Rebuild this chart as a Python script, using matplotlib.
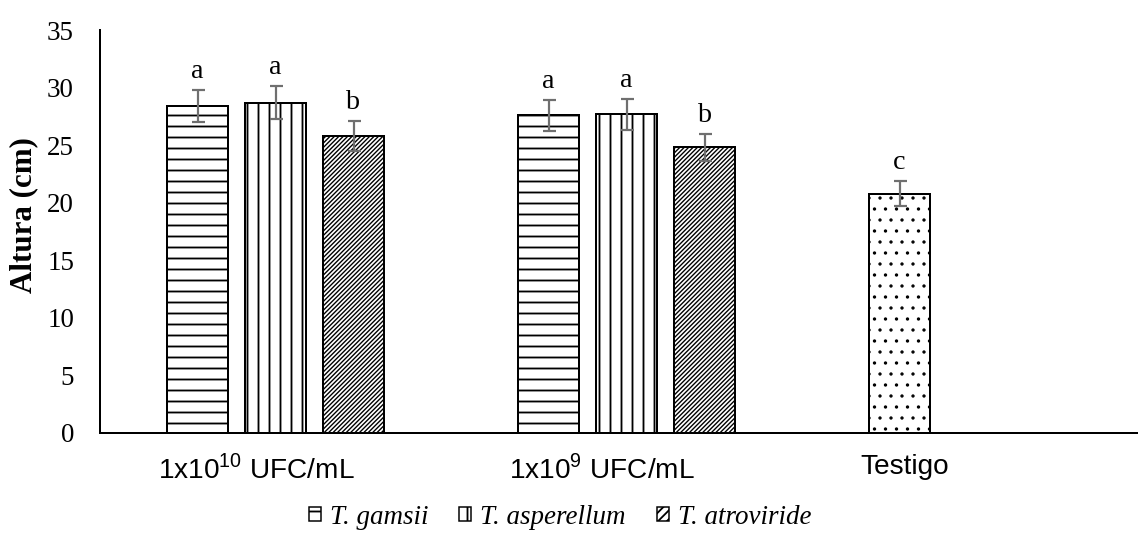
import numpy as np
import matplotlib
matplotlib.use('Agg')
import matplotlib.pyplot as plt
from matplotlib.patches import Patch

# ---------------- data ----------------
categories = ['1x10$^{\\mathregular{10}}$ UFC/mL', '1x10$^{\\mathregular{9}}$ UFC/mL', 'Testigo']
series_names = ['T. gamsii', 'T. asperellum', 'T. atroviride']
gamsii = [28.4, 27.6]
asperellum = [28.7, 27.7]
atroviride = [25.8, 24.8]
gamsii_err = [1.4, 1.35]
asperellum_err = [1.45, 1.35]
atroviride_err = [1.3, 1.2]
gamsii_letters = ['a', 'a']
asperellum_letters = ['a', 'a']
atroviride_letters = ['b', 'b']
testigo = [20.8]
testigo_err = [1.05]
testigo_letters = ['c']
yticks = [0, 5, 10, 15, 20, 25, 30, 35]

# ---------------- style ----------------
DPI = 132
W, H = 1138, 538


def pt(pixels):
    return pixels * 72.0 / DPI


plt.rcParams['mathtext.fontset'] = 'custom'
plt.rcParams['mathtext.rm'] = 'Liberation Sans'
plt.rcParams['hatch.color'] = 'black'
plt.rcParams['hatch.linewidth'] = 1.0

fig = plt.figure(figsize=(W / DPI, H / DPI), dpi=DPI)
ax = fig.add_axes([100 / W, 105 / H, 1053 / W, 403 / H])
ax.set_xlim(-0.5, 2.5)
ax.set_ylim(0, 35)

unit_px = 1053 / 3.0
slot = 78 / unit_px
barw = 61 / unit_px

hatches = ['--', '||', '//////////']
hatch_lw = [1.0, 1.0, 0.75]
err_color = '#6f6f6f'
serif = 'Liberation Serif'
sans = 'Liberation Sans'

series_vals = [gamsii, asperellum, atroviride]
series_err = [gamsii_err, asperellum_err, atroviride_err]
series_let = [gamsii_letters, asperellum_letters, atroviride_letters]


def set_hlw(patches, lw):
    for p in patches:
        try:
            p.set_hatch_linewidth(lw)
        except AttributeError:
            pass


def draw(xs, vals, errs, letters, hatch, hlw):
    bars = ax.bar(xs, vals, width=barw, color='white', edgecolor='black',
                  linewidth=pt(2), hatch=hatch, zorder=2)
    set_hlw(bars, hlw)
    ax.errorbar(xs, vals, yerr=errs, fmt='none', ecolor=err_color,
                elinewidth=pt(2.2), capsize=pt(6.5), capthick=pt(2.2), zorder=3)
    for x, v, e, l in zip(xs, vals, errs, letters):
        ax.annotate(l, (x, v + e), xytext=(0, pt(6)), textcoords='offset points',
                    ha='center', va='bottom', fontfamily=serif, fontsize=pt(28))
    return bars


for j in range(3):
    xs = np.arange(len(series_vals[j])) + (j - 1) * slot
    draw(xs, series_vals[j], series_err[j], series_let[j], hatches[j], hatch_lw[j])

xt = np.arange(len(testigo)) + 2 - slot
draw(xt, testigo, testigo_err, testigo_letters, '..', 0.6)

# axes styling
for s in ['top', 'right']:
    ax.spines[s].set_visible(False)
ax.spines['left'].set_linewidth(pt(2))
ax.spines['bottom'].set_linewidth(pt(2))

ax.set_yticks(yticks)
ax.set_yticklabels([str(v) for v in yticks], fontfamily=serif, fontsize=pt(27))
ax.tick_params(axis='y', length=0, pad=pt(26))

xpos = np.arange(3) - slot - barw / 2 - 9 / unit_px
ax.set_xticks(xpos)
ax.set_xticklabels(categories, fontfamily=sans, fontsize=pt(28), ha='left')
ax.tick_params(axis='x', length=0, pad=pt(21))

ax.set_ylabel('Altura (cm)', fontfamily=serif, fontweight='bold', fontsize=pt(31))
ax.yaxis.set_label_coords(-62 / 1053, 0.54)

handles = [Patch(facecolor='white', edgecolor='black', hatch=h, linewidth=pt(1.5))
           for h in ['--', '||', '/////']]
fs_leg = 27
fig.legend(handles, series_names, loc='center', bbox_to_anchor=(0.492, 1 - 517 / H),
           ncol=3, frameon=False,
           prop={'family': serif, 'style': 'italic', 'size': pt(fs_leg)},
           handlelength=12 / fs_leg, handleheight=12 / fs_leg,
           handletextpad=9 / fs_leg, columnspacing=31 / fs_leg, borderpad=0)

fig.savefig('out.png', dpi=DPI)
